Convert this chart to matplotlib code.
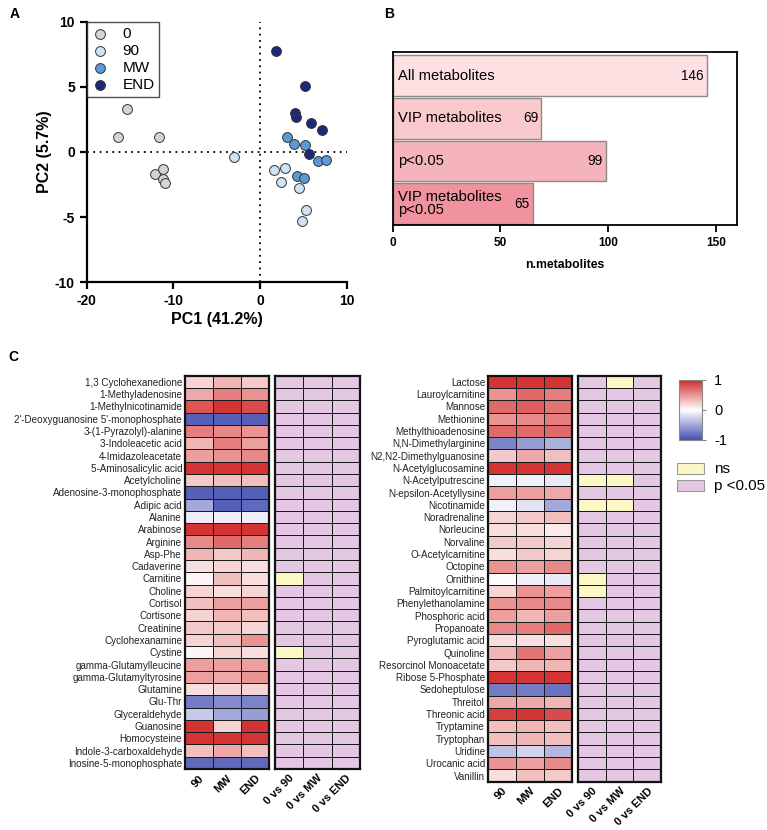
import numpy as np
import matplotlib.pyplot as plt
from matplotlib.colors import LinearSegmentedColormap, ListedColormap
from matplotlib.patches import Rectangle

plt.rcParams['font.family'] = ['Liberation Sans', 'DejaVu Sans']
plt.rcParams['axes.unicode_minus'] = False

# ---- Panel A: PCA scores ----
pca_groups = ['0', '90', 'MW', 'END']
pca_colors = ['#d4d4d4', '#cfe3f7', '#5a9ad6', '#1c2878']
pc1 = {
  '0': [-15.3, -16.4, -11.6, -12.1, -11.2, -11.15, -11.0],
  '90': [-3.0, 1.6, 2.9, 2.4, 4.5, 5.3, 4.8],
  'MW': [3.1, 3.9, 5.2, 6.65, 7.6, 4.3, 5.1],
  'END': [1.8, 5.2, 4.0, 4.1, 5.85, 7.1, 5.7],
}
pc2 = {
  '0': [3.27, 1.15, 1.15, -1.66, -1.3, -2.1, -2.4],
  '90': [-0.36, -1.36, -1.25, -2.28, -2.74, -4.45, -5.27],
  'MW': [1.18, 0.61, 0.56, -0.72, -0.64, -1.87, -1.97],
  'END': [7.75, 5.04, 3.02, 2.71, 2.25, 1.69, -0.15],
}

# ---- Panel B: metabolite counts ----
bar_labels = ['All metabolites', 'VIP metabolites', 'p<0.05', 'VIP metabolites\np<0.05']
bar_values = [146, 69, 99, 65]
bar_colors = ['#fde0e2', '#f9c9cd', '#f5b4bb', '#f0939e']

# ---- Panel C: heatmaps ----
hm_cols = ['90', 'MW', 'END']
sig_cols = ['0 vs 90', '0 vs MW', '0 vs END']

left_names = [
  '1,3 Cyclohexanedione', '1-Methyladenosine', '1-Methylnicotinamide',
  "2'-Deoxyguanosine 5'-monophosphate", '3-(1-Pyrazolyl)-alanine', '3-Indoleacetic acid',
  '4-Imidazoleacetate', '5-Aminosalicylic acid', 'Acetylcholine', 'Adenosine-3-monophosphate',
  'Adipic acid', 'Alanine', 'Arabinose', 'Arginine', 'Asp-Phe', 'Cadaverine', 'Carnitine',
  'Choline', 'Cortisol', 'Cortisone', 'Creatinine', 'Cyclohexanamine', 'Cystine',
  'gamma-Glutamylleucine', 'gamma-Glutamyltyrosine', 'Glutamine', 'Glu-Thr', 'Glyceraldehyde',
  'Guanosine', 'Homocysteine', 'Indole-3-carboxaldehyde', 'Inosine-5-monophosphate',
]
left_values = [
  [0.2, 0.35, 0.25], [0.4, 0.6, 0.5], [0.8, 0.95, 0.85], [-0.9, -0.9, -0.9],
  [0.6, 0.55, 0.5], [0.35, 0.6, 0.45], [0.45, 0.5, 0.55], [0.95, 0.95, 0.95],
  [0.25, 0.3, 0.3], [-0.9, -0.9, -0.9], [-0.5, -0.9, -0.85], [-0.1, -0.1, -0.1],
  [0.95, 0.95, 0.95], [0.55, 0.7, 0.6], [0.35, 0.25, 0.35], [0.15, 0.2, 0.15],
  [0.05, 0.3, 0.15], [0.2, 0.15, 0.2], [0.3, 0.45, 0.45], [0.2, 0.35, 0.3],
  [0.25, 0.25, 0.2], [0.2, 0.3, 0.5], [0.05, 0.2, 0.15], [0.45, 0.45, 0.45],
  [0.45, 0.4, 0.5], [0.15, 0.2, 0.2], [-0.75, -0.65, -0.7], [-0.3, -0.5, -0.55],
  [0.95, 0.2, 0.95], [0.95, 0.95, 0.95], [0.3, 0.4, 0.3], [-0.85, -0.85, -0.85],
]
# 1 = p<0.05, 0 = ns
left_sig = [[1, 1, 1] for _ in left_names]
left_sig[16] = [0, 1, 1]  # Carnitine
left_sig[22] = [0, 1, 1]  # Cystine

right_names = [
  'Lactose', 'Lauroylcarnitine', 'Mannose', 'Methionine', 'Methylthioadenosine',
  'N,N-Dimethylarginine', 'N2,N2-Dimethylguanosine', 'N-Acetylglucosamine',
  'N-Acetylputrescine', 'N-epsilon-Acetyllysine', 'Nicotinamide', 'Noradrenaline',
  'Norleucine', 'Norvaline', 'O-Acetylcarnitine', 'Octopine', 'Ornithine',
  'Palmitoylcarnitine', 'Phenylethanolamine', 'Phosphoric acid', 'Propanoate',
  'Pyroglutamic acid', 'Quinoline', 'Resorcinol Monoacetate', 'Ribose 5-Phosphate',
  'Sedoheptulose', 'Threitol', 'Threonic acid', 'Tryptamine', 'Tryptophan', 'Uridine',
  'Urocanic acid', 'Vanillin',
]
right_values = [
  [0.95, 0.95, 0.95], [0.5, 0.7, 0.6], [0.7, 0.75, 0.65], [0.5, 0.55, 0.6],
  [0.7, 0.7, 0.7], [-0.7, -0.55, -0.45], [0.25, 0.4, 0.3], [0.95, 0.95, 0.95],
  [-0.08, -0.08, -0.12], [0.45, 0.45, 0.4], [-0.08, -0.15, -0.5], [0.2, 0.25, 0.3],
  [0.15, 0.15, 0.1], [0.25, 0.25, 0.2], [0.15, 0.25, 0.2], [0.5, 0.45, 0.55],
  [0.02, -0.1, -0.12], [0.2, 0.5, 0.45], [0.5, 0.55, 0.55], [0.45, 0.35, 0.45],
  [0.55, 0.6, 0.7], [0.15, 0.15, 0.15], [0.35, 0.65, 0.45], [0.25, 0.35, 0.35],
  [0.95, 0.95, 0.95], [-0.75, -0.75, -0.8], [0.4, 0.4, 0.35], [0.9, 0.95, 0.85],
  [0.3, 0.35, 0.3], [0.3, 0.35, 0.3], [-0.35, -0.25, -0.4], [0.5, 0.45, 0.55],
  [0.15, 0.3, 0.25],
]
right_sig = [[1, 1, 1] for _ in right_names]
right_sig[0] = [1, 0, 1]   # Lactose
right_sig[8] = [0, 0, 1]   # N-Acetylputrescine
right_sig[10] = [0, 0, 1]  # Nicotinamide
right_sig[16] = [0, 1, 1]  # Ornithine
right_sig[17] = [0, 1, 1]  # Palmitoylcarnitine

hm_cmap = LinearSegmentedColormap.from_list('bwr2', ['#4450b2', '#ffffff', '#d32a2a'])
sig_cmap = ListedColormap(['#fbf8c6', '#e3c7e3'])


def draw_heat(ax, values, cmap, vmin, vmax, xlabels, ylabels=None):
  data = np.array(values, dtype=float)
  ax.pcolormesh(data, cmap=cmap, vmin=vmin, vmax=vmax, edgecolors='#1a1a1a', linewidth=0.6)
  ax.set_xlim(0, data.shape[1])
  ax.set_ylim(data.shape[0], 0)
  ax.set_xticks(np.arange(data.shape[1]) + 0.5)
  ax.set_xticklabels(xlabels, rotation=45, ha='right', rotation_mode='anchor',
                     fontsize=8, fontweight='bold')
  ax.tick_params(axis='x', length=0, pad=3)
  if ylabels is not None:
    ax.set_yticks(np.arange(data.shape[0]) + 0.5)
    ax.set_yticklabels(ylabels, fontsize=7.1, color='#222222')
    ax.tick_params(axis='y', length=0, pad=2)
  else:
    ax.set_yticks([])
  for s in ax.spines.values():
    s.set_linewidth(1.6)
    s.set_color('#111111')


fig = plt.figure(figsize=(7.67, 8.30), dpi=100)

# Panel A
ax_a = fig.add_axes([0.1130, 0.6599, 0.3390, 0.3140])
for g, c in zip(pca_groups, pca_colors):
  ax_a.scatter(pc1[g], pc2[g], s=50, color=c, edgecolor='#333333', linewidth=0.7,
               label=g, zorder=3)
ax_a.axvline(0, color='black', linestyle=(0, (1, 2.5)), linewidth=1.3, zorder=1)
ax_a.axhline(0, color='black', linestyle=(0, (1, 2.5)), linewidth=1.3, zorder=1)
ax_a.set_xlim(-20, 10)
ax_a.set_ylim(-10, 10)
ax_a.set_xticks([-20, -10, 0, 10])
ax_a.set_yticks([-10, -5, 0, 5, 10])
for s in ['top', 'right']:
  ax_a.spines[s].set_visible(False)
for s in ['left', 'bottom']:
  ax_a.spines[s].set_linewidth(1.6)
ax_a.tick_params(width=1.6, length=5, labelsize=10)
for lab in ax_a.get_xticklabels() + ax_a.get_yticklabels():
  lab.set_fontweight('bold')
ax_a.set_xlabel('PC1 (41.2%)', fontsize=11.5, fontweight='bold', labelpad=3)
ax_a.set_ylabel('PC2 (5.7%)', fontsize=11.5, fontweight='bold', labelpad=2)
leg = ax_a.legend(loc='upper left', fontsize=11, frameon=True, fancybox=False,
                  edgecolor='#222222', borderaxespad=0.05, borderpad=0.3,
                  labelspacing=0.2, handletextpad=0.9, handlelength=1.1)
leg.get_frame().set_linewidth(1.0)

# Panel B
ax_b = fig.add_axes([0.512, 0.7289, 0.4493, 0.2084])
ypos = np.arange(len(bar_values))
ax_b.barh(ypos, bar_values, height=0.95, color=bar_colors, edgecolor='#8a8a8a', linewidth=1.0)
for y, lab, v in zip(ypos, bar_labels, bar_values):
  ax_b.text(2.5, y, lab, va='center', ha='left', fontsize=10.6, linespacing=0.85)
  ax_b.text(v - 1.5, y, str(v), va='center', ha='right', fontsize=9.8)
ax_b.set_xlim(0, 160)
ax_b.set_ylim(3.5, -0.55)
ax_b.set_yticks([])
ax_b.set_xticks([0, 50, 100, 150])
ax_b.tick_params(axis='x', width=1.3, length=5, labelsize=8.5)
for lab in ax_b.get_xticklabels():
  lab.set_fontweight('bold')
for s in ax_b.spines.values():
  s.set_linewidth(1.3)
ax_b.set_xlabel('n.metabolites', fontsize=8.8, fontweight='bold', labelpad=7)

# Panel C heatmaps
ax_c1 = fig.add_axes([0.2412, 0.0735, 0.1095, 0.4739])
ax_c2 = fig.add_axes([0.3585, 0.0735, 0.1108, 0.4739])
ax_c3 = fig.add_axes([0.6362, 0.0582, 0.1095, 0.4892])
ax_c4 = fig.add_axes([0.7536, 0.0582, 0.1082, 0.4892])
draw_heat(ax_c1, left_values, hm_cmap, -1, 1, hm_cols, left_names)
draw_heat(ax_c2, left_sig, sig_cmap, 0, 1, sig_cols)
draw_heat(ax_c3, right_values, hm_cmap, -1, 1, hm_cols, right_names)
draw_heat(ax_c4, right_sig, sig_cmap, 0, 1, sig_cols)

# colorbar
cax = fig.add_axes([0.8853, 0.4699, 0.0296, 0.0723])
sm = plt.cm.ScalarMappable(cmap=hm_cmap, norm=plt.Normalize(-1, 1))
cb = fig.colorbar(sm, cax=cax, ticks=[-1, 0, 1])
cb.outline.set_edgecolor('#888888')
cb.outline.set_linewidth(0.8)
cax.tick_params(length=3, width=0.8, color='#888888', labelsize=10.5, pad=6)
cax.set_yticklabels(['-1', '0', '1'])

# ns / p<0.05 legend
for i, (lab, col) in enumerate([('ns', '#fbf8c6'), ('p <0.05', '#e3c7e3')]):
  y0 = 1 - (474 + i * 17.5) / 830
  fig.patches.append(Rectangle((677 / 767, y0), 27 / 767, 11 / 830, transform=fig.transFigure,
                               facecolor=col, edgecolor='#999999', linewidth=0.8))
  fig.text(714 / 767, y0 + 5.5 / 830, lab, fontsize=11, va='center', ha='left')

# panel letters
fig.text(10 / 767, 1 - 14 / 830, 'A', fontsize=10, fontweight='bold', va='center')
fig.text(384 / 767, 1 - 14 / 830, 'B', fontsize=10, fontweight='bold', va='center')
fig.text(8 / 767, 1 - 357 / 830, 'C', fontsize=10, fontweight='bold', va='center')

fig.savefig('out.png', dpi=100)
